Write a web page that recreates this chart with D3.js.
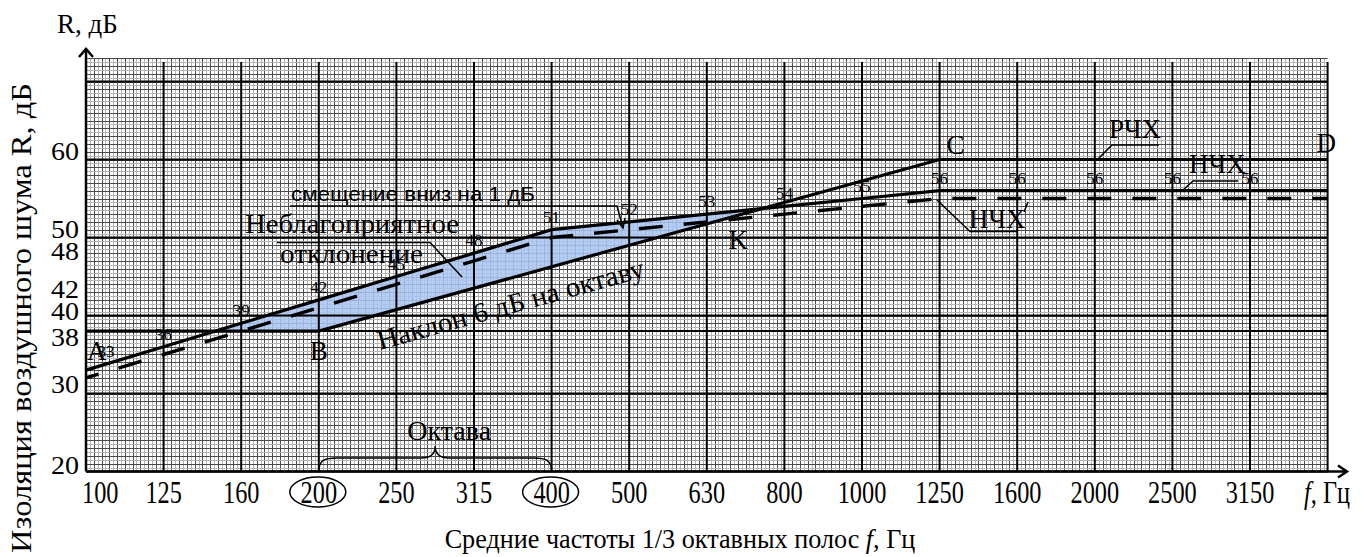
<!DOCTYPE html>
<meta charset="utf-8">
<style>
    body { margin: 0; background: #fff; }
    svg { display: block; }
    .serif { font-family: "Liberation Serif", "Times New Roman", serif; fill: #000; }
    .sans { font-family: "Liberation Sans", Arial, sans-serif; fill: #000; }
</style>
<script src="https://d3js.org/d3.v7.min.js"></script>
<svg id="chart" width="1361" height="557"></svg>
<script>
    // 1/3 octave band centres (the last one only closes the grid, no label)
    var bands = ["100", "125", "160", "200", "250", "315", "400", "500", "630", "800",
                 "1000", "1250", "1600", "2000", "2500", "3150", "4000"];
    var labelledBands = bands.slice(0, 16);

    // measured curve (НЧХ), dB
    var measured = [33, 36, 39, 42, 45, 48, 51, 52, 53, 54, 55, 56, 56, 56, 56, 56, 56];
    // measured curve moved down by 1 dB (dashed)
    var shifted = [32, 35, 38, 41, 44, 47, 50, 51, 52, 53, 54, 55, 55, 55, 55, 55, 55];

    // reference curve (РЧХ) corner points
    var refBands = ["100", "200", "1250", "4000"];
    var refValues = [38, 38, 60, 60];
    var refNames = ["A", "B", "C", "D"];

    var yTicks = [20, 30, 38, 40, 42, 48, 50, 60];
    var yBold = [20, 30, 38, 40, 50, 60, 70];
    var circled = ["200", "400"];

    var svg = d3.select("#chart");

    var xi = d3.scaleLinear().domain([0, bands.length - 1]).range([86, 1327.6]);
    var y = d3.scaleLinear().domain([20, 70]).range([471.5, 81.5]);
    function xb(b) { return xi(bands.indexOf(b)); }

    var x0 = xi(0), x1 = xi(bands.length - 1), yTop = y(73), yBot = y(20);
    function crisp(v) { return Math.round(v) + 0.5; }

    // reference value at a (fractional) band index
    var refIdx = refBands.map(function(b) { return bands.indexOf(b); });
    function refAt(i) {
        for (var s = 0; s < refIdx.length - 1; s++) {
            if (i <= refIdx[s + 1]) {
                var t = (i - refIdx[s]) / (refIdx[s + 1] - refIdx[s]);
                return refValues[s] + t * (refValues[s + 1] - refValues[s]);
            }
        }
        return refValues[refValues.length - 1];
    }

    // points where measured lies above the reference, plus crossings
    var pts = [], crossings = [];
    for (var k = 0; k < measured.length; k++) {
        pts.push({ i: k, m: measured[k], r: refAt(k) });
        if (k < measured.length - 1) {
            var d0 = measured[k] - refAt(k), d1 = measured[k + 1] - refAt(k + 1);
            if (d0 * d1 < 0) {
                var t = d0 / (d0 - d1);
                var c = { i: k + t, m: measured[k] + t * (measured[k + 1] - measured[k]) };
                c.r = c.m;
                pts.push(c);
                crossings.push(c);
            }
        }
    }
    var above = pts.filter(function(d) { return d.m - d.r >= -1e-9; });

    // minor grid
    var grid = svg.append("g");
    var nX = (bands.length - 1) * 20;
    for (var j = 1; j < nX; j++) {
        if (j % 20 === 0) continue;
        grid.append("line")
            .attr("x1", crisp(xi(j / 20))).attr("x2", crisp(xi(j / 20)))
            .attr("y1", yTop).attr("y2", yBot)
            .attr("stroke", j % 2 === 0 ? "#4a4a4a" : "#b5b5b5").attr("stroke-width", 1);
    }
    for (var v = 20.5; v <= 73; v += 0.5) {
        grid.append("line")
            .attr("x1", x0).attr("x2", x1)
            .attr("y1", crisp(y(v))).attr("y2", crisp(y(v)))
            .attr("stroke", v % 1 === 0 ? "#4a4a4a" : "#b5b5b5").attr("stroke-width", 1);
    }

    // unfavourable deviation area
    svg.append("path")
        .datum(above)
        .attr("d", d3.area()
            .x(function(d) { return xi(d.i); })
            .y0(function(d) { return y(d.r); })
            .y1(function(d) { return y(d.m); }))
        .attr("fill", "#a9c5f2")
        .attr("fill-opacity", 0.85);

    // bold grid
    var bold = svg.append("g").attr("stroke", "#000").attr("stroke-width", 2);
    bands.slice(1).forEach(function(b) {
        bold.append("line").attr("x1", xb(b)).attr("x2", xb(b)).attr("y1", yBot).attr("y2", 62);
    });
    yBold.forEach(function(v) {
        bold.append("line").attr("x1", x0).attr("x2", x1).attr("y1", y(v)).attr("y2", y(v));
    });

    // axes with arrows
    var ax = svg.append("g").attr("stroke", "#000").attr("stroke-width", 2.5).attr("fill", "none");
    ax.append("line").attr("x1", x0).attr("x2", x0).attr("y1", yBot).attr("y2", 49);
    ax.append("path").attr("d", "M" + (x0 - 7) + ",57L" + x0 + ",49L" + (x0 + 7) + ",57");
    ax.append("line").attr("x1", x0).attr("x2", 1347).attr("y1", yBot).attr("y2", yBot);
    ax.append("path").attr("d", "M1338," + (yBot - 6) + "L1347," + yBot + "L1338," + (yBot + 6));

    // curves
    var lineM = d3.line().x(function(d, i) { return xi(i); }).y(function(d) { return y(d); });
    svg.append("path").datum(shifted).attr("d", lineM)
        .attr("fill", "none").attr("stroke", "#000").attr("stroke-width", 3.4)
        .attr("stroke-dasharray", "24,21").attr("stroke-dashoffset", 11);
    svg.append("path").datum(measured).attr("d", lineM)
        .attr("fill", "none").attr("stroke", "#000").attr("stroke-width", 3.2);
    svg.append("path").datum(refValues)
        .attr("d", d3.line().x(function(d, i) { return xb(refBands[i]); }).y(function(d) { return y(d); }))
        .attr("fill", "none").attr("stroke", "#000").attr("stroke-width", 3.2);

    // value labels on measured curve
    svg.append("g").selectAll("text")
        .data(labelledBands)
        .enter().append("text")
        .attr("class", "serif")
        .attr("font-size", 17)
        .attr("text-anchor", "middle")
        .attr("x", function(d, i) { return i === 0 ? xi(i) + 20 : xi(i); })
        .attr("y", function(d, i) { return i === 0 ? y(measured[i]) - 13 : y(measured[i]) - 7; })
        .text(function(d, i) { return measured[i]; });

    // corner letters
    var letterPos = { A: [1, 29, "start"], B: [0, 29, "middle"], C: [7, -6, "start"], D: [-11, -8, "start"] };
    refNames.forEach(function(n, i) {
        svg.append("text").attr("class", "serif").attr("font-size", 27)
            .attr("text-anchor", letterPos[n][2])
            .attr("x", xb(refBands[i]) + letterPos[n][0])
            .attr("y", y(refValues[i]) + letterPos[n][1])
            .text(n);
    });
    var kp = crossings[crossings.length - 1];
    svg.append("text").attr("class", "serif").attr("font-size", 27).attr("text-anchor", "middle")
        .attr("x", xi(kp.i) - 24).attr("y", y(kp.m) + 40).text("K");

    // y tick labels
    var yNudge = { 60: -8, 50: -8.5, 48: -2, 42: -11, 40: -4, 38: 6, 30: -9.5, 20: -6 };
    svg.append("g").selectAll("text")
        .data(yTicks)
        .enter().append("text")
        .attr("class", "serif")
        .attr("font-size", 25)
        .attr("text-anchor", "end")
        .attr("dy", "0.35em")
        .attr("transform", function(d) { return "translate(79," + (y(d) + yNudge[d]) + ") scale(1.12,1)"; })
        .text(function(d) { return d; });

    // x tick labels
    svg.append("g").selectAll("text")
        .data(labelledBands)
        .enter().append("text")
        .attr("class", "serif")
        .attr("font-size", 32)
        .attr("text-anchor", function(d, i) { return i === 0 ? "start" : "middle"; })
        .attr("transform", function(d, i) {
            return "translate(" + (i === 0 ? 82 : xi(i)) + ",503) scale(0.76,1)";
        })
        .text(function(d) { return d; });
    circled.forEach(function(b) {
        svg.append("ellipse").attr("cx", xb(b) - 1).attr("cy", 492).attr("rx", 28).attr("ry", 15)
            .attr("fill", "none").attr("stroke", "#000").attr("stroke-width", 1.5);
    });
    var fz = svg.append("text").attr("class", "serif").attr("font-size", 32)
        .attr("transform", "translate(1304,503) scale(0.76,1)");
    fz.append("tspan").attr("font-style", "italic").text("f");
    fz.append("tspan").text(", Гц");

    // octave brace
    var bx0 = xb(circled[0]), bx1 = xb(circled[1]), bm = (bx0 + bx1) / 2;
    svg.append("path")
        .attr("d", "M" + bx0 + "," + yBot + "C" + bx0 + ",460 " + (bx0 + 6) + ",458 " + (bx0 + 18) + ",458" +
            "L" + (bm - 14) + ",458C" + (bm - 4) + ",458 " + bm + ",454 " + bm + ",446" +
            "C" + bm + ",454 " + (bm + 4) + ",458 " + (bm + 14) + ",458" +
            "L" + (bx1 - 18) + ",458C" + (bx1 - 6) + ",458 " + bx1 + ",460 " + bx1 + "," + yBot)
        .attr("fill", "none").attr("stroke", "#000").attr("stroke-width", 1.5);
    svg.append("text").attr("class", "serif").attr("font-size", 28).attr("text-anchor", "middle")
        .attr("x", bm + 14).attr("y", 440).text("Октава");

    // axis titles
    svg.append("text").attr("class", "serif").attr("font-size", 27)
        .attr("x", 57).attr("y", 33).text("R, дБ");
    svg.append("text").attr("class", "serif").attr("font-size", 30)
        .attr("text-anchor", "middle")
        .attr("textLength", 470).attr("lengthAdjust", "spacingAndGlyphs")
        .attr("transform", "translate(31,318) rotate(-90)")
        .text("Изоляция воздушного шума R, дБ");
    var xt = svg.append("text").attr("class", "serif").attr("font-size", 27)
        .attr("text-anchor", "middle")
        .attr("transform", "translate(680,548) scale(0.97,1)");
    xt.append("tspan").text("Средние частоты 1/3 октавных полос ");
    xt.append("tspan").attr("font-style", "italic").text("f");
    xt.append("tspan").text(", Гц");

    // annotations
    var lead = svg.append("g").attr("stroke", "#000").attr("stroke-width", 1.5).attr("fill", "none");

    svg.append("text").attr("class", "sans").attr("font-size", 20)
        .attr("x", 291).attr("y", 201)
        .attr("textLength", 244).attr("lengthAdjust", "spacingAndGlyphs")
        .text("смещение вниз на 1 дБ");
    lead.append("path").attr("d", "M290,206L617,206L623,228");
    lead.append("path").attr("d", "M617,220L623,228L625,218");

    svg.append("text").attr("class", "serif").attr("font-size", 27)
        .attr("x", 245).attr("y", 233)
        .attr("textLength", 214).attr("lengthAdjust", "spacingAndGlyphs")
        .text("Неблагоприятное");
    svg.append("text").attr("class", "serif").attr("font-size", 27)
        .attr("x", 280).attr("y", 263)
        .attr("textLength", 143).attr("lengthAdjust", "spacingAndGlyphs")
        .text("отклонение");
    lead.append("path").attr("d", "M277,242.5L430,242.5L462,277");

    var slope = Math.atan2(y(refValues[2]) - y(refValues[1]), xb(refBands[2]) - xb(refBands[1])) * 180 / Math.PI;
    svg.append("text").attr("class", "serif").attr("font-size", 28)
        .attr("textLength", 276).attr("lengthAdjust", "spacingAndGlyphs")
        .attr("transform", "translate(380,350) rotate(" + slope + ")")
        .text("Наклон 6 дБ на октаву");

    svg.append("text").attr("class", "serif").attr("font-size", 27)
        .attr("x", 1109).attr("y", 138).text("РЧХ");
    lead.append("path").attr("d", "M1159,145L1112,145L1098,159");

    svg.append("text").attr("class", "serif").attr("font-size", 27)
        .attr("x", 1189).attr("y", 173).text("НЧХ");
    lead.append("path").attr("d", "M1238,181L1193,181L1183,190");

    svg.append("text").attr("class", "serif").attr("font-size", 27)
        .attr("x", 969).attr("y", 228).text("НЧХ");
    lead.append("path").attr("d", "M937,200L970,231.5L1017,231.5");
    lead.append("path").attr("d", "M1028,202L1024,212");
</script>
